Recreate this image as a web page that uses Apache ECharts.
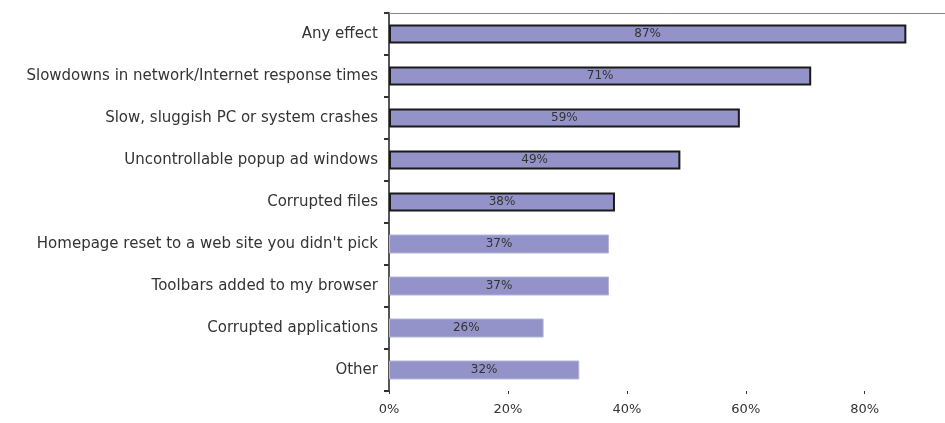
<!DOCTYPE html>
<html>
<head>
<meta charset="utf-8">
<script src="https://cdn.jsdelivr.net/npm/echarts@6/dist/echarts.min.js"></script>
<style>
  html, body { margin: 0; padding: 0; background: #fff; }
  #chart { width: 945px; height: 423px; }
</style>
</head>
<body>
<div id="chart"></div>
<script>
// Effects reported, share of respondents
const categories = [
  'Any effect',
  'Slowdowns in network/Internet response times',
  'Slow, sluggish PC or system crashes',
  'Uncontrollable popup ad windows',
  'Corrupted files',
  "Homepage reset to a web site you didn't pick",
  'Toolbars added to my browser',
  'Corrupted applications',
  'Other'
];
const values = [87, 71, 59, 49, 38, 37, 37, 26, 32];
const outlined = [true, true, true, true, true, false, false, false, false];
const tickValues = [0, 20, 40, 60, 80];
// the value axis runs a little past 80% up to the right edge of the page
const axisMax = 93.5;

const FONT = 'DejaVu Sans';

const chart = echarts.init(document.getElementById('chart'));
chart.setOption({
  animation: false,
  backgroundColor: '#ffffff',
  grid: { left: 389, right: 0, top: 13, bottom: 32, containLabel: false },
  xAxis: [
    {
      type: 'value',
      min: 0,
      max: axisMax,
      interval: 20,
      position: 'bottom',
      axisLine: { show: false },
      axisTick: {
        show: true, length: 3, customValues: tickValues,
        lineStyle: { color: '#333', width: 1 }
      },
      splitLine: { show: false },
      axisLabel: {
        margin: 12,
        color: '#333',
        fontFamily: FONT,
        fontSize: 13,
        customValues: tickValues,
        formatter: v => v + '%'
      }
    },
    {
      type: 'value',
      min: 0,
      max: axisMax,
      position: 'top',
      axisLine: { show: true, lineStyle: { color: '#888', width: 1 } },
      axisTick: { show: false },
      axisLabel: { show: false },
      splitLine: { show: false }
    }
  ],
  yAxis: {
    type: 'category',
    data: categories,
    inverse: true,
    axisLine: { show: true, lineStyle: { color: '#555', width: 2 } },
    axisTick: { show: true, length: 5, lineStyle: { color: '#333', width: 2 } },
    axisLabel: {
      margin: 11,
      color: '#333',
      fontFamily: FONT,
      fontSize: 15
    }
  },
  series: [{
    type: 'bar',
    xAxisIndex: 0,
    barWidth: 19,
    data: values.map((v, i) => ({
      value: v,
      itemStyle: outlined[i]
        ? { color: '#9393c9', borderColor: '#1a1a1a', borderWidth: 2 }
        : { color: '#9393c9', borderColor: '#b4b4dc', borderWidth: 1 }
    })),
    label: {
      show: true,
      position: 'inside',
      color: '#333',
      fontFamily: FONT,
      fontSize: 12,
      formatter: p => p.value + '%'
    }
  }]
});
</script>
</body>
</html>
